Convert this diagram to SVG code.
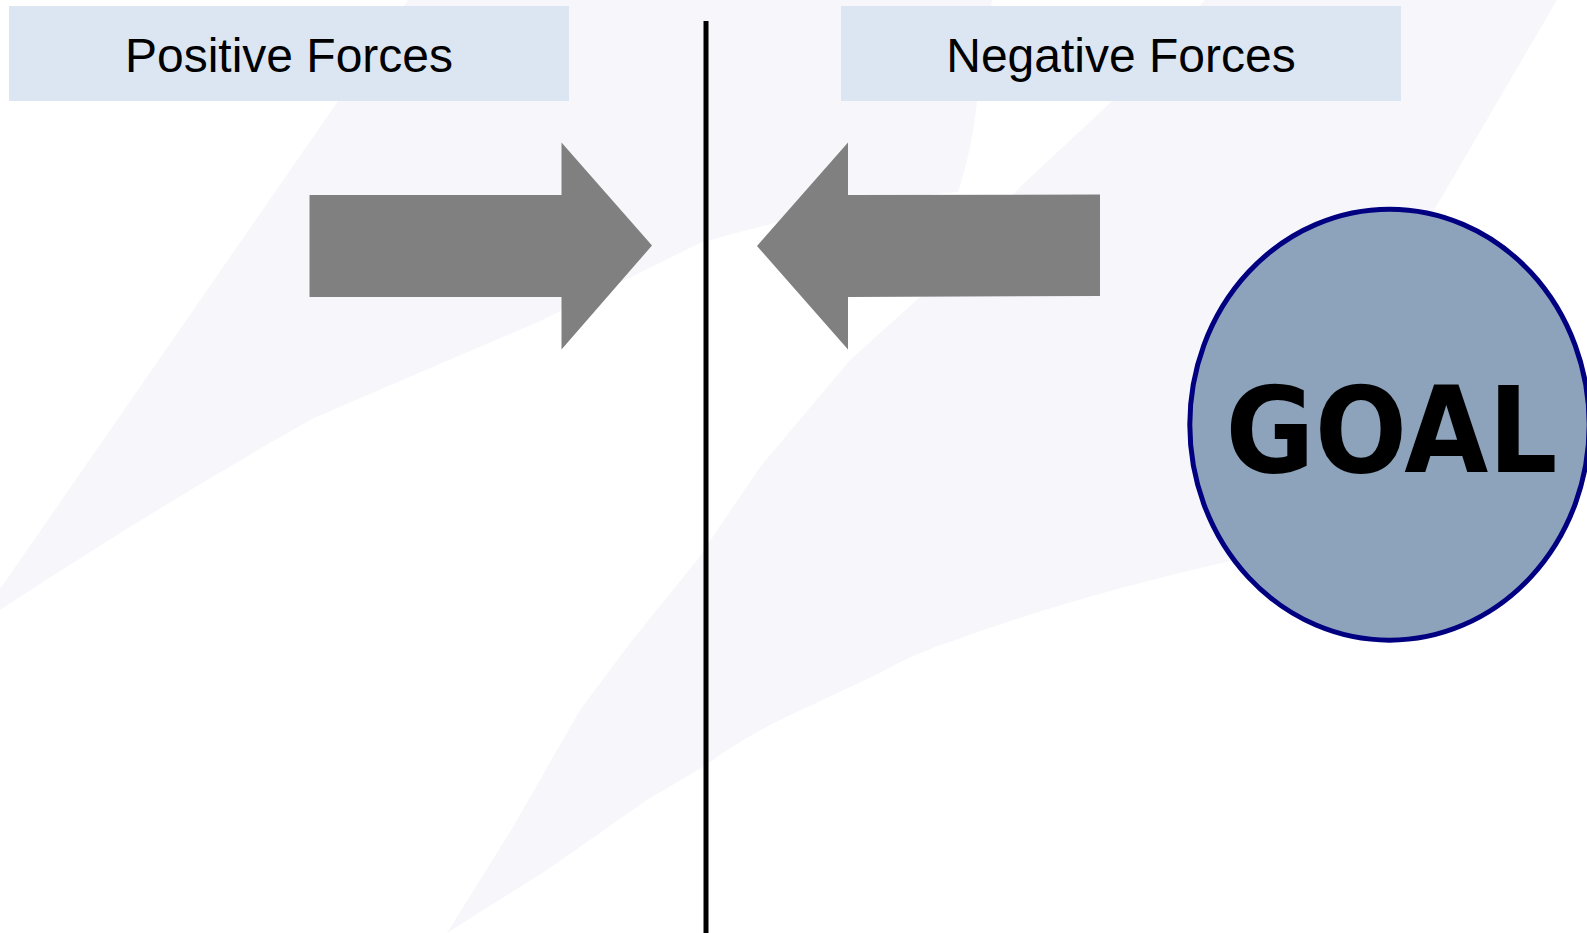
<svg xmlns="http://www.w3.org/2000/svg" width="1587" height="933" viewBox="0 0 1587 933">
  <style>
    .bg { fill: #F7F7FB; }
    .hdr { fill: #DCE6F2; }
    .hdr-text { font-family: "Liberation Sans", Arial, sans-serif; font-size: 48px; fill: #000000; text-anchor: middle; }
    .force { fill: #808080; }
    .divider { stroke: #000000; stroke-width: 5; fill: none; }
    .goal { fill: #8DA3BC; stroke: #000080; stroke-width: 5; }
    .goal-text { font-family: "DejaVu Sans", Verdana, sans-serif; font-weight: bold; font-size: 120px; fill: #000000; text-anchor: middle; }
  </style>

  <rect x="0" y="0" width="1587" height="933" fill="#FFFFFF"/>

  <g id="background">
    <path class="bg" d="M408,0 L0,589 L0,610 Q160,505 312,419 Q430,368 536,323 Q620,283 700,243 Q850,200 958,192 Q972,150 977,103 L992,0 Z"/>
    <path class="bg" d="M1205,0 L1557,0 L1440,200 L1235,560 Q1080,595 961,638 Q910,655 880,673 L780,720 Q740,740 703,767 L647,800 L547,870 L447,933 L513,827 L580,710 L630,643 L697,560 L760,467 L850,360 L920,297 L1020,187 L1110,103 Z"/>
  </g>

  <g id="header-positive">
    <rect class="hdr" x="9" y="6" width="560" height="95"/>
    <text class="hdr-text" x="289" y="72">Positive Forces</text>
  </g>

  <g id="header-negative">
    <rect class="hdr" x="841" y="6" width="560" height="95"/>
    <text class="hdr-text" x="1121" y="72">Negative Forces</text>
  </g>

  <g id="divider">
    <line class="divider" x1="706" y1="21" x2="706" y2="933"/>
  </g>

  <g id="arrow-positive">
    <polygon class="force" points="309.5,195 561.5,195 561.5,142.5 652,245.5 561.5,349.5 561.5,297 309.5,297"/>
  </g>

  <g id="arrow-negative">
    <polygon class="force" points="757,246 848,142.5 848,195 1100,194.5 1100,296 848,297 848,349.5"/>
  </g>

  <g id="goal">
    <ellipse class="goal" cx="1389.5" cy="424.7" rx="199.7" ry="215.5"/>
    <text class="goal-text" x="1391.5" y="471.7" textLength="332" lengthAdjust="spacingAndGlyphs">GOAL</text>
  </g>

  <g id="connectors"/>
</svg>
